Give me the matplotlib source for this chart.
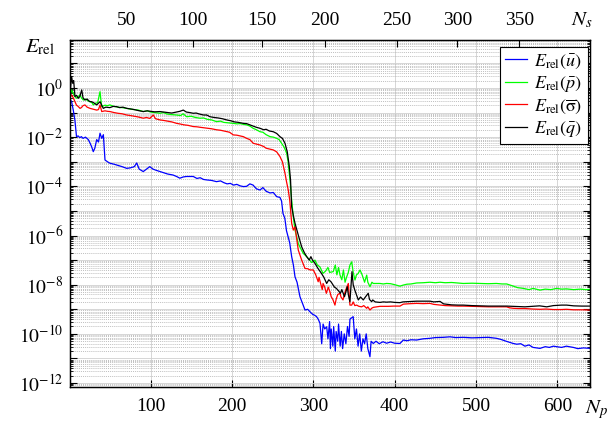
import numpy as np
import matplotlib
matplotlib.use("Agg")
import matplotlib.pyplot as plt
from matplotlib.ticker import FixedLocator, FuncFormatter, NullFormatter

plt.rcParams['font.family'] = ['Liberation Serif', 'DejaVu Serif']
plt.rcParams['mathtext.fontset'] = 'stix'

# ---------------- data (N_p, log10 E_rel) ----------------
u_x = [1, 3, 5, 7, 9, 11, 13, 15, 17, 20, 23.5, 25.6, 27.7, 29.6, 31.5, 33.8, 36, 37.9, 40, 42, 44, 47, 50, 55, 60, 65,
       70.7, 75, 80, 83, 86, 91, 95, 99, 103, 107, 111.6, 116, 121, 127.6, 132, 136, 140, 144, 152.5, 157, 161, 165,
       169, 175, 181, 186, 190, 194, 198, 202, 206, 210, 214, 218, 222, 226, 230, 234.5, 238, 242, 246.8, 250.8, 255,
       259, 261, 262.7, 265, 267, 269, 271, 273.4, 275.5, 277.5, 280, 283.6, 286, 289.8, 293, 295.9, 299, 302, 304,
       306, 308.2, 310.3, 312, 314, 316.4, 318, 320, 321, 322, 324, 325, 327, 328, 330, 331, 333, 334.5, 336, 338, 340,
       342, 344, 345, 349, 351, 353, 355, 357, 359, 361, 363, 365, 367, 369.6, 371, 373.7, 377, 381, 385.6, 390, 395,
       400, 406.5, 410.6, 415, 420, 427, 435, 443.4, 450, 460, 467.9, 475, 484.3, 495, 505, 515, 525, 530, 537, 545.7,
       550, 555, 560, 565, 570, 578.5, 585, 590, 595, 599, 605, 611, 619.5, 625, 632, 640]
u_log = [-0.45, -0.56, -0.9, -1.3, -1.98, -1.95, -2.02, -1.98, -2.05, -2.0, -2.1, -2.24, -2.4, -2.59, -2.45, -2.1, -2.2,
         -1.84, -2.05, -1.9, -2.93, -3.0, -3.06, -3.1, -3.15, -3.2, -3.27, -3.25, -3.2, -3.05, -3.3, -3.4, -3.3, -3.2,
         -3.3, -3.35, -3.4, -3.45, -3.5, -3.54, -3.6, -3.67, -3.62, -3.6, -3.6, -3.68, -3.65, -3.72, -3.74, -3.76,
         -3.81, -3.78, -3.85, -3.9, -3.88, -3.95, -3.92, -3.98, -4.01, -4.0, -3.9, -3.95, -4.1, -4.15, -4.05, -4.2,
         -4.27, -4.25, -4.42, -4.45, -4.6, -5.1, -5.3, -5.8, -6.05, -6.3, -6.86, -7.2, -7.68, -7.9, -8.49, -8.7,
         -9.03, -9.0, -9.1, -9.2, -9.25, -9.3, -9.4, -9.57, -10.4, -9.6, -9.8, -9.71, -10.2, -9.5, -10.6, -9.8, -10.5,
         -9.7, -10.7, -9.9, -10.3, -9.6, -10.5, -9.9, -10.6, -10.0, -10.4, -9.7, -10.1, -9.4, -9.3, -10.2, -9.8, -10.5,
         -10.0, -10.7, -10.2, -10.4, -10.0, -10.6, -10.93, -10.3, -10.39, -10.3, -10.4, -10.32, -10.38, -10.33, -10.38,
         -10.39, -10.25, -10.28, -10.24, -10.25, -10.2, -10.18, -10.15, -10.14, -10.12, -10.15, -10.14, -10.16,
         -10.15, -10.14, -10.18, -10.22, -10.3, -10.39, -10.42, -10.4, -10.5, -10.45, -10.55, -10.59, -10.52, -10.55,
         -10.5, -10.52, -10.55, -10.5, -10.55, -10.6, -10.57, -10.59]

p_x = [1, 3, 5, 7, 9.2, 11, 13.3, 15, 17.3, 20, 23, 25.6, 28, 29.6, 32, 35, 37.9, 39, 40, 44, 47, 50, 55, 60, 65, 70.7,
       75, 80, 85, 91, 96, 100, 105, 111.6, 116, 120, 125, 132, 137, 140, 144.4, 150, 155, 160.7, 165, 170, 175, 181,
       186, 190, 196, 201.7, 206, 210, 214, 218, 222, 226, 230, 234.5, 238, 242, 246.8, 251, 255, 258, 261, 264, 267.3,
       269, 271.3, 273.4, 275.4, 277.5, 281.5, 284, 287.7, 290, 293.8, 298, 302, 305, 308, 311.9, 315, 318, 320, 324.5,
       327, 329, 331, 332.8, 335, 337, 339, 341, 343, 345, 347.2, 349, 351.2, 353, 355, 357.4, 360, 363, 365.6, 367,
       369.6, 372, 373.7, 378, 381.9, 386, 390, 395, 400, 406.5, 410, 415, 420, 427, 435, 443.4, 450, 455.7, 462, 470,
       478, 484.3, 495, 505, 515, 525, 532, 537.6, 545, 551, 558, 565, 570, 578.5, 585, 592, 599, 605, 611, 620, 628,
       635, 640]
p_log = [-0.3, -0.08, -0.22, -0.35, -0.42, -0.35, -0.28, -0.4, -0.49, -0.45, -0.52, -0.56, -0.6, -0.69, -0.62, -0.6,
         -0.15, -0.5, -0.76, -0.7, -0.72, -0.69, -0.75, -0.78, -0.8, -0.83, -0.86, -0.88, -0.9, -0.96, -0.93, -0.98,
         -1.0, -1.03, -1.0, -1.06, -1.08, -1.1, -1.12, -1.05, -1.17, -1.15, -1.2, -1.23, -1.22, -1.28, -1.3, -1.37,
         -1.35, -1.4, -1.42, -1.44, -1.46, -1.45, -1.48, -1.5, -1.55, -1.64, -1.7, -1.78, -1.8, -1.9, -1.98, -2.0,
         -2.05, -2.1, -2.25, -2.4, -2.66, -3.0, -3.74, -4.56, -5.24, -5.78, -6.32, -6.5, -6.73, -6.8, -6.93, -7.1,
         -7.0, -7.2, -7.27, -7.54, -7.45, -7.3, -7.5, -7.47, -7.2, -7.6, -7.3, -7.61, -7.8, -7.4, -7.9, -7.68, -7.5,
         -7.2, -7.07, -7.5, -7.81, -7.6, -7.55, -7.4, -7.6, -7.9, -7.61, -7.9, -8.08, -7.9, -7.95, -7.95, -7.95, -7.97,
         -7.95, -7.96, -8.0, -8.06, -8.02, -7.98, -7.97, -7.93, -7.92, -7.9, -7.92, -7.9, -7.92, -7.91, -7.93, -7.95,
         -7.94, -7.95, -7.96, -7.95, -7.97, -7.97, -8.05, -8.12, -8.15, -8.2, -8.15, -8.22, -8.18, -8.2, -8.15, -8.18,
         -8.17, -8.2, -8.18, -8.2, -8.19]

s_x = [1, 3, 5, 7.1, 9, 11, 13.3, 15, 17, 19.4, 22, 25.6, 28, 30, 33.8, 36, 37.9, 40, 44, 47, 50.2, 55, 60, 65, 70.7,
       75, 80, 85, 91.1, 95, 99, 103.4, 106, 111.6, 116, 121, 126, 132.1, 137, 141, 146, 152.5, 157, 161, 166, 170,
       175, 181, 186, 190, 193.6, 197, 201.7, 206, 210, 214, 218.1, 222, 226.2, 230, 234.5, 239, 242, 246, 250.8, 255,
       259, 262, 265.2, 267, 269.2, 271, 273.4, 275.4, 277.5, 279, 281.5, 285.7, 289.8, 293, 296, 300, 303, 306, 307,
       309, 311, 312, 314, 316, 318.4, 320.5, 322, 324, 326.6, 328, 330, 332.8, 334, 336.5, 338, 340, 343, 345, 347.2,
       349, 351, 353.3, 356, 359.4, 362, 365.6, 367, 369.6, 372, 374, 377.9, 381.9, 386, 392, 399, 406.5, 410.6, 415,
       420, 427, 435, 443.4, 448, 455.7, 462, 470, 478, 484.3, 495, 505, 515, 525, 537.6, 541, 545.7, 552, 560, 570,
       578.5, 586, 595, 605, 611, 620, 630, 640]
s_log = [-0.4, -0.28, -0.4, -0.56, -0.7, -0.75, -0.83, -0.8, -0.72, -0.69, -0.78, -0.83, -0.85, -0.87, -0.9, -0.88,
         -0.69, -0.96, -0.93, -0.95, -0.96, -1.0, -1.03, -1.05, -1.1, -1.12, -1.15, -1.18, -1.23, -1.2, -1.24, -1.1,
         -1.25, -1.3, -1.32, -1.35, -1.38, -1.44, -1.47, -1.5, -1.52, -1.57, -1.58, -1.6, -1.62, -1.64, -1.66, -1.7,
         -1.72, -1.75, -1.78, -1.8, -1.91, -1.92, -1.95, -1.98, -2.05, -2.1, -2.25, -2.28, -2.32, -2.38, -2.45, -2.48,
         -2.52, -2.6, -2.79, -3.0, -3.47, -3.8, -4.15, -4.56, -5.5, -5.78, -5.64, -6.0, -6.59, -7.0, -7.34, -7.35, -7.4,
         -7.4, -7.6, -7.88, -7.7, -7.95, -8.2, -7.95, -8.1, -8.35, -8.1, -8.3, -8.49, -8.6, -8.83, -8.6, -8.4, -8.35,
         -8.5, -8.62, -8.4, -8.2, -7.95, -8.83, -8.83, -8.7, -8.85, -8.83, -8.88, -8.9, -8.85, -8.96, -8.9, -9.03,
         -8.95, -8.92, -8.9, -8.88, -8.88, -8.88, -8.87, -8.87, -8.79, -8.78, -8.77, -8.76, -8.77, -8.76, -8.8, -8.83,
         -8.85, -8.86, -8.87, -8.87, -8.88, -8.89, -8.9, -8.9, -8.9, -8.94, -8.96, -8.97, -8.97, -8.99, -9.0, -8.99,
         -9.01, -9.01, -9.0, -9.02, -9.02, -9.03]

q_x = [1, 3, 4.3, 5.5, 7.1, 9, 11.2, 13, 15.4, 17, 19.4, 22, 25, 27.7, 30, 33.8, 36, 37.9, 40, 41.9, 45, 50, 54, 58.4,
       62, 66, 70.7, 75, 80, 85, 91, 96, 100, 105, 111.6, 116, 121, 126, 132, 136, 140.2, 144, 148, 152.5, 156, 160,
       165, 169, 173, 178, 183, 188, 193.6, 198, 203, 208, 214, 218, 222, 226, 230, 234.5, 239, 242, 246, 250.8, 255,
       259, 262, 265.2, 268, 270.5, 272, 273.4, 275.5, 277.5, 281.5, 285.7, 289, 291.9, 295, 297, 299, 302, 305, 307,
       310, 313, 316.4, 319, 321.7, 324, 326, 328.3, 331, 333.3, 335, 338.3, 340, 341.7, 343, 345, 346, 347.5, 349, 351,
       353, 355.3, 358, 361.4, 364, 367.5, 369, 371.7, 373, 376, 381.9, 386, 390, 395, 400, 406.5, 410, 415, 420, 427,
       435, 443.4, 448, 455.7, 460, 465, 470, 478, 484.3, 495, 505, 515, 525, 537.6, 545, 552, 560, 570, 578, 586.8,
       595, 605, 611.3, 620, 630, 640]
q_log = [-0.2, 0.46, 0.19, 0.3, -0.35, -0.3, -0.42, -0.35, -0.08, -0.4, -0.49, -0.45, -0.55, -0.56, -0.6, -0.69,
         -0.62, -0.56, -0.7, -0.83, -0.78, -0.8, -0.75, -0.76, -0.8, -0.78, -0.83, -0.85, -0.88, -0.92, -0.96, -0.93,
         -0.95, -0.97, -0.96, -0.98, -1.0, -1.02, -0.98, -0.95, -0.9, -0.98, -1.0, -1.03, -1.02, -1.06, -1.1, -1.1,
         -1.17, -1.2, -1.22, -1.25, -1.3, -1.33, -1.38, -1.4, -1.44, -1.45, -1.5, -1.55, -1.6, -1.64, -1.7, -1.68,
         -1.75, -1.78, -1.85, -1.98, -2.05, -2.25, -2.6, -3.2, -3.74, -4.83, -5.2, -5.5, -5.98, -6.46, -6.7, -6.86,
         -7.0, -6.86, -7.0, -7.13, -7.3, -7.4, -7.54, -7.7, -7.95, -7.8, -7.88, -8.0, -8.1, -8.15, -8.25, -8.35, -8.2,
         -8.49, -8.3, -8.08, -8.4, -8.69, -8.2, -7.47, -8.0, -8.22, -8.4, -8.62, -8.5, -8.62, -8.5, -8.35, -8.6, -8.69,
         -8.62, -8.7, -8.72, -8.7, -8.71, -8.7, -8.72, -8.73, -8.7, -8.69, -8.68, -8.67, -8.67, -8.67, -8.7, -8.68,
         -8.78, -8.8, -8.82, -8.83, -8.83, -8.85, -8.86, -8.87, -8.87, -8.87, -8.88, -8.89, -8.9, -8.88, -8.86, -8.9,
         -8.85, -8.83, -8.83, -8.86, -8.87, -8.87]

series_labels = [r'$E_{\rm rel}(\bar{u})$', r'$E_{\rm rel}(\bar{p})$',
                 r'$E_{\rm rel}(\overline{\mathrm{σ}})$', r'$E_{\rm rel}(\bar{q})$']
series_colors = ['#0000ff', '#00ff00', '#ff0000', '#000000']

np_ticks = [100, 200, 300, 400, 500, 600]
ns_labels = [50, 100, 150, 200, 250, 300, 350]
ns_pos = [71, 152, 237, 314, 403, 477, 553]   # N_p position of each N_s tick

# ---------------- figure ----------------
fig = plt.figure(figsize=(6.09, 4.25), dpi=100)
ax = fig.add_axes([70/609, 1-387/425, 520/609, 347/425])

for xs, ls, c, lab in zip([u_x, p_x, s_x, q_x], [u_log, p_log, s_log, q_log], series_colors, series_labels):
    ax.plot(xs, 10.0**np.array(ls), color=c, lw=0.9, label=lab)

ax.set_yscale('log')
ax.set_xlim(1, 640)
ax.set_ylim(10**-12.16, 10**1.95)

decades = [10.0**k for k in range(-12, 2)]
ax.yaxis.set_major_locator(FixedLocator(decades))
ax.yaxis.set_major_formatter(FuncFormatter(
    lambda v, p: (r'$10^{%d}$' % round(np.log10(v))) if round(np.log10(v)) % 2 == 0 else ''))
minors = [m * 10.0**k for k in range(-13, 2) for m in range(2, 10)]
ax.yaxis.set_minor_locator(FixedLocator(minors))
ax.yaxis.set_minor_formatter(NullFormatter())
ax.set_xticks(np_ticks)
ax.set_xticklabels([str(t) for t in np_ticks])

ax.tick_params(axis='both', which='both', direction='in', labelsize=14, top=False, right=True)
ax.tick_params(axis='both', which='major', length=5, width=0.8)
ax.tick_params(axis='y', which='minor', length=2.5, width=0.6)
ax.tick_params(axis='x', pad=8)
ax.tick_params(axis='y', pad=5)

ax.grid(True, which='major', color='#d0d0d0', lw=0.6, ls='-')
ax.grid(True, which='minor', axis='y', color='#a8a8a8', lw=0.5, ls=(0, (1.5, 1.5)))
ax.set_axisbelow(True)
for s in ax.spines.values():
    s.set_linewidth(1.0)

ax2 = ax.twiny()
ax2.set_xlim(ax.get_xlim())
ax2.set_xticks(ns_pos)
ax2.set_xticklabels([str(v) for v in ns_labels])
ax2.tick_params(axis='x', direction='in', length=5, width=0.8, labelsize=14, pad=8)

leg = ax.legend(loc='upper right', bbox_to_anchor=(0.996, 0.98), borderaxespad=0, fontsize=13,
                frameon=True, fancybox=False, edgecolor='black', framealpha=1,
                handlelength=1.2, handletextpad=0.4, labelspacing=0.18, borderpad=0.3)
leg.get_frame().set_linewidth(0.8)

fig.text(40/609, 1-47/425, r'$E_{\rm rel}$', fontsize=15, ha='center', va='center')
fig.text(597/609, 1-410/425, r'$N_p$', fontsize=15, ha='center', va='center')
fig.text(582/609, 1-20/425, r'$N_s$', fontsize=15, ha='center', va='center')

fig.savefig('out.png', dpi=100)
